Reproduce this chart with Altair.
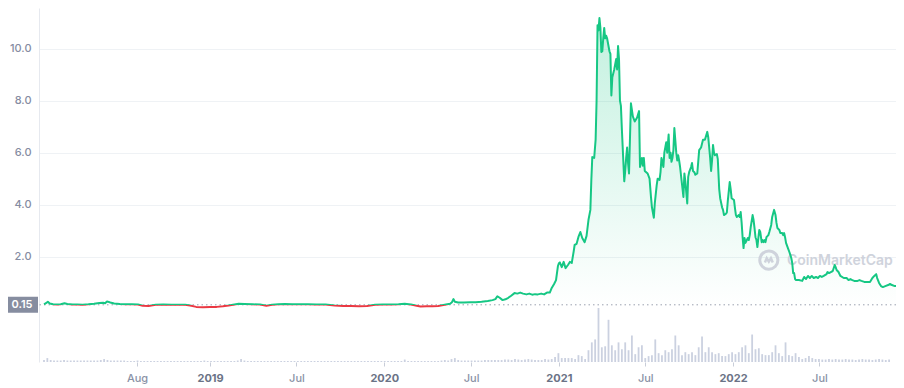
import altair as alt
import pandas as pd

# ---------------- data ----------------
price_dates = [
    "2018-01-18", "2018-01-22", "2018-01-26", "2018-01-30", "2018-02-06", "2018-02-14", "2018-02-22",
    "2018-03-02", "2018-03-08", "2018-03-19", "2018-03-29", "2018-04-09", "2018-04-21", "2018-05-03",
    "2018-05-14", "2018-05-22", "2018-05-26", "2018-05-30", "2018-06-06", "2018-06-14", "2018-06-26",
    "2018-07-09", "2018-07-21", "2018-08-03", "2018-08-13", "2018-08-25", "2018-09-09", "2018-09-25",
    "2018-10-12", "2018-10-26", "2018-11-10", "2018-11-20", "2018-12-03", "2018-12-17",
    "2019-01-01", "2019-01-15", "2019-01-28", "2019-02-09", "2019-02-21", "2019-03-02", "2019-03-14",
    "2019-03-31", "2019-04-16", "2019-04-29", "2019-05-11", "2019-05-24", "2019-06-07", "2019-06-22",
    "2019-07-08", "2019-07-25", "2019-08-12", "2019-08-31", "2019-09-19", "2019-10-07", "2019-10-24",
    "2019-11-09", "2019-11-26", "2019-12-13", "2019-12-29",
    "2020-01-15", "2020-01-31", "2020-02-13", "2020-02-26", "2020-03-09", "2020-03-17", "2020-03-30",
    "2020-04-11", "2020-04-23", "2020-05-04", "2020-05-12", "2020-05-18", "2020-05-22", "2020-05-25",
    "2020-05-28", "2020-06-04", "2020-06-16", "2020-06-29", "2020-07-11", "2020-07-23", "2020-08-05",
    "2020-08-15", "2020-08-21", "2020-08-25", "2020-08-30", "2020-09-05", "2020-09-11", "2020-09-17",
    "2020-09-23", "2020-09-30", "2020-10-06", "2020-10-12", "2020-10-18", "2020-10-25", "2020-10-31",
    "2020-11-06", "2020-11-12", "2020-11-18", "2020-11-25", "2020-12-01", "2020-12-07", "2020-12-13",
    "2020-12-17", "2020-12-22", "2020-12-26", "2020-12-30",
    "2021-01-01", "2021-01-03", "2021-01-07", "2021-01-11", "2021-01-15", "2021-01-20", "2021-01-24",
    "2021-01-28", "2021-02-01", "2021-02-03", "2021-02-07", "2021-02-11", "2021-02-15", "2021-02-19",
    "2021-02-24", "2021-02-28", "2021-03-04", "2021-03-08", "2021-03-10", "2021-03-12", "2021-03-16",
    "2021-03-19", "2021-03-21", "2021-03-23", "2021-03-25", "2021-03-27", "2021-03-29", "2021-03-31",
    "2021-04-02", "2021-04-04", "2021-04-06", "2021-04-08", "2021-04-10", "2021-04-12", "2021-04-17",
    "2021-04-19", "2021-04-21", "2021-04-23", "2021-04-27", "2021-05-01", "2021-05-03", "2021-05-05",
    "2021-05-07", "2021-05-09", "2021-05-11", "2021-05-13", "2021-05-18", "2021-05-20", "2021-05-22",
    "2021-05-24", "2021-05-26", "2021-05-28", "2021-06-01", "2021-06-05", "2021-06-09", "2021-06-14",
    "2021-06-18", "2021-06-20", "2021-06-24", "2021-06-26", "2021-06-28", "2021-06-30", "2021-07-06",
    "2021-07-10", "2021-07-13", "2021-07-15", "2021-07-19", "2021-07-21", "2021-07-25", "2021-07-27",
    "2021-07-31", "2021-08-02", "2021-08-04", "2021-08-08", "2021-08-10", "2021-08-12", "2021-08-14",
    "2021-08-16", "2021-08-19", "2021-08-21", "2021-08-23", "2021-08-25", "2021-08-27", "2021-08-29",
    "2021-08-31", "2021-09-04", "2021-09-06", "2021-09-08", "2021-09-10", "2021-09-12", "2021-09-15",
    "2021-09-19", "2021-09-21", "2021-09-23", "2021-09-27", "2021-09-29", "2021-10-01", "2021-10-05",
    "2021-10-07", "2021-10-09", "2021-10-12", "2021-10-14", "2021-10-18", "2021-10-20", "2021-10-22",
    "2021-10-26", "2021-10-30", "2021-11-03", "2021-11-08", "2021-11-10", "2021-11-12", "2021-11-14",
    "2021-11-16", "2021-11-18", "2021-11-20", "2021-11-22", "2021-11-24", "2021-11-28", "2021-11-30",
    "2021-12-03", "2021-12-05", "2021-12-09", "2021-12-11", "2021-12-13", "2021-12-17", "2021-12-19",
    "2021-12-21", "2021-12-25", "2021-12-27", "2021-12-29",
    "2022-01-03", "2022-01-05", "2022-01-07", "2022-01-09", "2022-01-13", "2022-01-15", "2022-01-17",
    "2022-01-19", "2022-01-21", "2022-01-23", "2022-01-25", "2022-01-27", "2022-02-01", "2022-02-03",
    "2022-02-05", "2022-02-07", "2022-02-11", "2022-02-13", "2022-02-15", "2022-02-17", "2022-02-19",
    "2022-02-21", "2022-02-23", "2022-02-25", "2022-02-27", "2022-03-02", "2022-03-04", "2022-03-06",
    "2022-03-08", "2022-03-10", "2022-03-12", "2022-03-16", "2022-03-18", "2022-03-22", "2022-03-24",
    "2022-03-28", "2022-03-31", "2022-04-02", "2022-04-04", "2022-04-08", "2022-04-10", "2022-04-14",
    "2022-04-16", "2022-04-18", "2022-04-20", "2022-04-22", "2022-04-26", "2022-04-29", "2022-05-01",
    "2022-05-03", "2022-05-05", "2022-05-07", "2022-05-09", "2022-05-11", "2022-05-13", "2022-05-19",
    "2022-05-26", "2022-05-30", "2022-06-03", "2022-06-07", "2022-06-11", "2022-06-15", "2022-06-19",
    "2022-06-24", "2022-06-28", "2022-07-02", "2022-07-06", "2022-07-10", "2022-07-16", "2022-07-18",
    "2022-07-21", "2022-07-25", "2022-07-29", "2022-08-02", "2022-08-04", "2022-08-06", "2022-08-10",
    "2022-08-14", "2022-08-21", "2022-08-27", "2022-08-31", "2022-09-04", "2022-09-08", "2022-09-12",
    "2022-09-19", "2022-09-23", "2022-09-27", "2022-10-03", "2022-10-09", "2022-10-15", "2022-10-20",
    "2022-10-24", "2022-10-28", "2022-10-30", "2022-11-03", "2022-11-07", "2022-11-11", "2022-11-16",
    "2022-11-22", "2022-11-26", "2022-11-30", "2022-12-06", "2022-12-13",
]
price_values = [
    0.17, 0.21, 0.27, 0.20, 0.17, 0.16, 0.17,
    0.21, 0.18, 0.16, 0.16, 0.155, 0.17, 0.19,
    0.22, 0.23, 0.21, 0.28, 0.24, 0.20, 0.18,
    0.17, 0.17, 0.16, 0.11, 0.10, 0.155, 0.16,
    0.155, 0.155, 0.155, 0.12, 0.07, 0.06,
    0.07, 0.07, 0.09, 0.12, 0.16, 0.19, 0.18,
    0.17, 0.16, 0.11, 0.155, 0.17, 0.18, 0.17,
    0.17, 0.17, 0.16, 0.16, 0.12, 0.10, 0.10,
    0.09, 0.10, 0.155, 0.16,
    0.16, 0.17, 0.19, 0.16, 0.11, 0.085, 0.09,
    0.09, 0.10, 0.14, 0.17, 0.19, 0.25, 0.37,
    0.27, 0.24, 0.24, 0.25, 0.25, 0.27, 0.30,
    0.33, 0.37, 0.48, 0.42, 0.33, 0.36, 0.42,
    0.50, 0.60, 0.58, 0.62, 0.58, 0.55, 0.58,
    0.54, 0.56, 0.55, 0.58, 0.55, 0.62, 0.62,
    0.80, 0.95, 1.10, 1.64,
    1.75, 1.78, 1.60, 1.80, 1.56, 1.68, 1.80,
    1.76, 2.20, 2.45, 2.49, 2.76, 2.95, 2.72,
    2.56, 2.80, 3.41, 3.80, 4.95, 5.83, 5.80,
    6.50, 8.00, 10.90, 10.70, 11.18, 10.80, 9.87,
    9.90, 10.40, 10.80, 10.40, 10.50, 10.40, 9.90,
    9.80, 8.20, 8.90, 9.20, 9.60, 9.20, 10.10,
    9.60, 8.00, 7.80, 6.90, 4.90, 5.30, 5.80,
    6.20, 5.60, 5.20, 7.90, 7.40, 7.20, 7.35,
    7.60, 5.45, 5.80, 5.50, 5.80, 5.30, 5.20,
    5.00, 4.30, 3.90, 3.50, 4.05, 4.75, 5.00,
    4.95, 5.25, 5.80, 5.45, 6.00, 6.20, 6.40,
    6.00, 6.70, 5.80, 6.00, 5.65, 5.80, 6.10,
    6.95, 6.00, 5.70, 5.90, 5.70, 5.45, 4.95,
    4.30, 5.20, 4.90, 4.05, 5.07, 5.25, 5.45,
    5.60, 5.30, 5.25, 5.15, 5.20, 5.65, 6.10,
    6.20, 6.50, 6.50, 6.80, 6.60, 6.20, 5.80,
    5.30, 5.70, 6.30, 6.00, 5.90, 5.95, 5.75,
    4.60, 4.25, 3.90, 3.80, 3.60, 3.65, 3.70,
    4.15, 4.87, 4.60, 4.25,
    4.18, 3.87, 3.60, 3.53, 3.60, 3.53, 3.72,
    3.30, 2.75, 2.33, 2.72, 2.53, 2.72, 2.64,
    2.83, 3.14, 3.60, 3.41, 3.10, 2.75, 2.64,
    2.37, 2.72, 3.03, 2.95, 2.56, 2.64, 2.56,
    2.64, 2.56, 2.75, 2.83, 2.95, 3.22, 3.53,
    3.80, 3.60, 3.30, 3.10, 3.03, 2.91, 2.91,
    2.83, 2.91, 2.75, 2.53, 2.33, 2.18, 2.07,
    1.95, 1.76, 1.37, 1.37, 1.14, 1.10, 1.10,
    1.07, 1.22, 1.14, 1.26, 1.18, 1.26, 1.18,
    1.22, 1.18, 1.26, 1.22, 1.26, 1.33, 1.41,
    1.37, 1.41, 1.45, 1.68, 1.60, 1.49, 1.41,
    1.26, 1.18, 1.18, 1.10, 1.14, 1.10, 1.07,
    1.07, 1.10, 1.07, 1.03, 1.03, 1.03, 1.18,
    1.26, 1.33, 1.18, 0.99, 0.87, 0.83, 0.87,
    0.91, 0.95, 0.91, 0.87, 0.87,
]

# weekly volume bars (relative units), first bar on volume_start
volume_start = "2018-01-18"
volume_2018 = [2, 4, 2, 1.5, 1.5, 1.5, 2, 1.5, 1.5, 1.5,
               1.5, 1.5, 1.5, 1.5, 1.5, 1.5, 1.5, 2, 3, 2,
               1.5, 1.5, 1.5, 1.5, 1.5, 1, 1, 1, 1.5, 1,
               1, 1, 1, 1, 1, 1, 1, 1, 1, 1,
               1, 1, 1, 1, 1, 1, 1, 1, 1.5, 1,
               1, 1]
volume_2019 = [1, 1, 1, 1, 1, 1, 1.5, 3, 1.5, 1,
               1, 1, 1, 1, 1, 1, 1, 1, 1, 1,
               1, 1, 1, 1, 1, 1, 1, 1, 1, 1,
               1, 1, 1, 1, 1, 1, 1, 1, 1, 1,
               1, 1, 1, 1, 1, 1, 1, 1, 1, 1,
               1, 1]
volume_2020 = [1, 1, 1, 1, 2.5, 1, 1, 1, 1, 1, 1, 1, 1, 1, 1,
               1.5, 2, 1.5, 3, 4, 2, 1.5, 1.5, 1.5, 1.5, 1.5, 1.5, 1.5,
               2, 2, 2, 2, 2, 2, 2.5, 2.5, 2, 3, 2.5, 2, 2.5, 3, 2.5, 2,
               2, 2, 3, 2.5, 3, 5, 9, 4]
volume_2021 = [4, 4, 4, 3, 7, 6, 3, 12, 20, 23,
               55, 15, 16, 43, 17, 12, 20, 13, 20, 12,
               27, 8, 15, 17, 4, 6, 7, 23, 9, 7,
               12, 10, 13, 27, 17, 7, 10, 8, 10, 7,
               15, 26, 10, 15, 10, 8, 9, 6, 6, 8, 10, 8]
volume_2022 = [10, 15, 17, 9, 28, 13, 14, 8, 7, 7,
               10, 17, 9, 6, 20, 7, 6, 9, 5, 3,
               4, 6, 4, 3, 3, 2.5, 2.5, 3, 2.5, 3,
               2.5, 2.5, 3, 2.5, 2.5, 2, 2.5, 3, 2.5, 2.5,
               2, 2.5, 3, 2.5, 2, 2.5]

base_price = 0.15
y_ticks = [2, 4, 6, 8, 10]
x_ticks = ["2018-08-01", "2019-01-01", "2019-07-01", "2020-01-01", "2020-07-01",
           "2021-01-01", "2021-07-01", "2022-01-01", "2022-07-01"]
x_domain = ["2018-01-18", "2022-11-28"]
y_domain = [-2.05, 11.565]
watermark_logo = {"date": ["2022-03-17"], "price": [1.87]}
watermark_text = {"date": ["2022-04-24"], "price": [1.85], "label": ["CoinMarketCap"]}

# ---------------- styling ----------------
GREEN = "#16c784"
RED = "#ea3943"
W, H = 857, 354
VOL_BAND = 54
FONT = "Inter"


def ms(d):
    return int(pd.Timestamp(d, tz="UTC").timestamp() * 1000)


price_df = pd.DataFrame({"date": price_dates, "price": price_values})
volume_values = volume_2018 + volume_2019 + volume_2020 + volume_2021 + volume_2022
volume_dates = list(pd.date_range(volume_start, periods=len(volume_values), freq="7D").strftime("%Y-%m-%d"))
vol_df = pd.DataFrame({"date": volume_dates, "volume": volume_values})
base_df = pd.DataFrame({"price": [base_price], "label": [f"{base_price:.2f}"]})

is_year = "utcmonth(datum.value) == 0"
xaxis = alt.Axis(
    values=[ms(d) for d in x_ticks],
    labelExpr=f"{is_year} ? utcFormat(datum.value, '%Y') : utcFormat(datum.value, '%b')",
    labelFontWeight={"condition": {"test": is_year, "value": 700}, "value": 500},
    labelColor={"condition": {"test": is_year, "value": "#6b7386"}, "value": "#8a92a6"},
    labelFont=FONT, labelFontSize=11, labelPadding=6, labelFlush=False,
    grid=False, domain=False, ticks=True, tickSize=4, tickColor="#c8cdd8",
    title=None,
)
yaxis = alt.Axis(
    values=y_ticks, format=".1f", orient="left",
    labelFont=FONT, labelFontSize=11, labelFontWeight=500, labelColor="#858ca2",
    labelPadding=8, ticks=False, tickSize=0,
    grid=True, gridColor="#eff2f5", gridWidth=1,
    domain=True, domainColor="#e6e9ef", title=None,
)
xscale = alt.Scale(type="utc", domain=[ms(d) for d in x_domain], nice=False)
yscale = alt.Scale(domain=y_domain, nice=False, zero=False)

X = alt.X("date:T", scale=xscale, axis=xaxis)


def Y(field):
    return alt.Y(field, type="quantitative", scale=yscale, axis=yaxis)


vmax, vmin = max(price_values), min(price_values)
cut = (vmax - base_price) / (vmax - vmin)
line_grad = alt.Gradient(
    gradient="linear", x1=0, x2=0, y1=0, y2=1,
    stops=[alt.GradientStop(color=GREEN, offset=0), alt.GradientStop(color=GREEN, offset=cut),
           alt.GradientStop(color=RED, offset=cut), alt.GradientStop(color=RED, offset=1)],
)
area_grad = alt.Gradient(
    gradient="linear", x1=0, x2=0, y1=0, y2=1,
    stops=[alt.GradientStop(color="rgba(22,199,132,0.26)", offset=0),
           alt.GradientStop(color="rgba(22,199,132,0.0)", offset=1)],
)

area = alt.Chart(price_df).mark_area(color=area_grad, clip=True).encode(
    x=X, y=Y("price"), y2=alt.datum(base_price)
)
base_rule = alt.Chart(base_df).mark_rule(color="#9aa1b0", strokeWidth=1, strokeDash=[1.5, 3]).encode(
    y=Y("price")
)
line = alt.Chart(price_df).mark_line(color=line_grad, strokeWidth=2, strokeJoin="round", clip=True).encode(
    x=X, y=Y("price")
)
box = alt.Chart(base_df).mark_rect(color="#868da0", yOffset=-8, y2Offset=8).encode(
    x=alt.value(-37), x2=alt.value(-1), y=Y("price"), y2=alt.Y2("price")
)
box_text = alt.Chart(base_df).mark_text(
    color="white", font=FONT, fontSize=11, fontWeight=600, align="center", baseline="middle"
).encode(x=alt.value(-17), y=Y("price"), text="label:N")

logo_df = pd.DataFrame(watermark_logo)
logo_ring = alt.Chart(logo_df).mark_point(
    shape="circle", size=330, filled=False, stroke="#cfd3dc", strokeWidth=3, opacity=1
).encode(x=X, y=Y("price"))
logo_m = alt.Chart(logo_df).mark_point(
    shape="M-0.75,0.45L-0.4,-0.35L0,0.3L0.4,-0.35L0.75,0.45",
    size=110, filled=False, stroke="#cfd3dc", strokeWidth=2.5, opacity=1
).encode(x=X, y=Y("price"))
logo_text = alt.Chart(pd.DataFrame(watermark_text)).mark_text(
    font=FONT, fontSize=14, fontWeight=600, color="#cfd3dc", align="left", baseline="middle"
).encode(x=X, y=Y("price"), text="label:N")

price_layer = alt.layer(area, base_rule, logo_ring, logo_m, logo_text, line, box, box_text)

vol_layer = alt.Chart(vol_df).mark_bar(size=1.8, color="#cbd1e0", clip=True).encode(
    x=X,
    y=alt.Y("volume:Q", scale=alt.Scale(domain=[0, max(volume_values) * H / VOL_BAND], nice=False, zero=True),
            axis=None),
)

chart = (
    alt.layer(vol_layer, price_layer)
    .resolve_scale(y="independent")
    .properties(
        width=W, height=H,
        padding={"left": 31, "top": 0, "right": 0, "bottom": 26},
        autosize=alt.AutoSizeParams(type="none"),
        background="white",
    )
    .configure_view(stroke=None)
)

chart.save("out.html", embed_options={"renderer": "svg", "actions": False})
